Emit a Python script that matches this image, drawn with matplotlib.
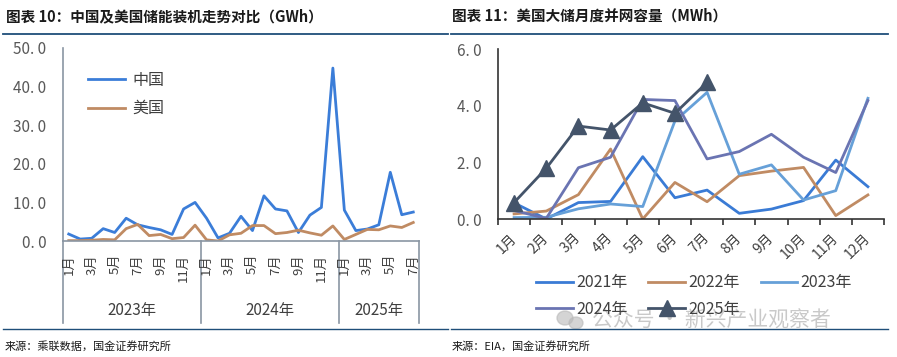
import matplotlib
matplotlib.use("Agg")
import matplotlib.pyplot as plt
from matplotlib.lines import Line2D
from matplotlib.patches import Ellipse
import matplotlib.transforms as mtransforms
import numpy as np

plt.rcParams['font.family'] = ['Noto Sans CJK SC', 'DejaVu Sans']

# ---------------- data ----------------
left_title = "图表 10：中国及美国储能装机走势对比（GWh）"
right_title = "图表 11：美国大储月度并网容量（MWh）"
left_source = "来源：乘联数据，国金证券研究所"
right_source = "来源：EIA，国金证券研究所"

years_left = ["2023年", "2024年", "2025年"]
months_per_year = [12, 12, 7]
china = [1.8, 0.5, 0.7, 3.2, 2.2, 5.9, 4.2, 3.5, 2.9, 1.7, 8.3, 10.0,
         5.9, 0.8, 2.0, 6.4, 2.7, 11.7, 8.3, 7.8, 2.2, 6.7, 8.7, 44.8,
         8.0, 2.7, 3.1, 4.2, 17.8, 6.8, 7.5]
usa = [0.1, 0.1, 0.2, 0.4, 0.3, 3.2, 4.3, 1.4, 1.7, 0.6, 0.9, 4.1,
       0.3, 0.0, 1.6, 2.0, 4.0, 4.0, 1.9, 2.2, 2.8, 2.1, 1.5, 3.9,
       0.4, 1.7, 3.0, 2.9, 3.9, 3.5, 4.8]
left_series = ["中国", "美国"]

months = ["1月", "2月", "3月", "4月", "5月", "6月", "7月", "8月", "9月", "10月", "11月", "12月"]
y2021 = [0.57, 0.0, 0.58, 0.62, 2.2, 0.75, 1.02, 0.2, 0.35, 0.65, 2.08, 1.14]
y2022 = [0.18, 0.28, 0.86, 2.47, 0.0, 1.29, 0.61, 1.53, 1.69, 1.82, 0.12, 0.85]
y2023 = [0.05, 0.06, 0.36, 0.53, 0.44, 3.46, 4.47, 1.58, 1.91, 0.67, 1.0, 4.26]
y2024 = [0.3, 0.02, 1.81, 2.18, 4.22, 4.18, 2.12, 2.38, 2.99, 2.18, 1.64, 4.18]
y2025 = [0.58, 1.79, 3.28, 3.14, 4.1, 3.73, 4.82]
right_series = ["2021年", "2022年", "2023年", "2024年", "2025年"]
watermark = "公众号 · 新兴产业观察者"

# ---------------- styles ----------------
W, H = 897, 357
fig = plt.figure(figsize=(W / 100, H / 100), dpi=100)
fig.patch.set_facecolor("white")

def fx(px):
    return px / W

def fy(py):
    return 1 - py / H

line_col = "#1f4e79"
txt_col = "#404040"
tick_col = "#595959"

# title lines and bottom lines
for (x0, x1) in [(3, 448), (451, 888)]:
    fig.add_artist(Line2D([fx(x0), fx(x1)], [fy(34), fy(34)], color=line_col, lw=1.3))
    fig.add_artist(Line2D([fx(x0), fx(x1)], [fy(329), fy(329)], color=line_col, lw=1.0))

fig.text(fx(6), fy(16), left_title, fontsize=10.5, fontweight='bold', fontstyle='italic',
         color="#1a1a1a", va='center', ha='left')
fig.text(fx(452), fy(16), right_title, fontsize=10.5, fontweight='bold', fontstyle='italic',
         color="#1a1a1a", va='center', ha='left')
fig.text(fx(5), fy(346), left_source, fontsize=8, color="#1a1a1a", va='center', ha='left')
fig.text(fx(452), fy(346), right_source, fontsize=8, color="#1a1a1a", va='center', ha='left')

def fmt(v):
    return f"{v:.1f}".replace(".", ". ")

# ---------------- left chart ----------------
axL = fig.add_axes([fx(63), fy(241), fx(419 - 63), (241 - 48) / H])
n = len(china)
x = np.arange(n)
axL.plot(x, china, color="#3b7dd8", lw=2.0, label=left_series[0])
axL.plot(x, usa, color="#c08b63", lw=2.0, label=left_series[1])
axL.set_xlim(-0.5, n - 0.5)
axL.set_ylim(0, 50)
axL.set_yticks([0, 10, 20, 30, 40, 50])
axL.set_yticklabels([fmt(v) for v in [0, 10, 20, 30, 40, 50]])
axL.tick_params(axis='y', length=0, pad=12, labelsize=11, labelcolor=tick_col)
axL.set_xticks([])
for s in ['top', 'right']:
    axL.spines[s].set_visible(False)
ax_gray = "#8a96a3"
axL.spines['left'].set_color(ax_gray)
axL.spines['bottom'].set_color(ax_gray)
axL.spines['left'].set_linewidth(1.2)
axL.spines['bottom'].set_linewidth(1.2)

trans = mtransforms.blended_transform_factory(axL.transData, axL.transAxes)
axh = 241 - 48
idx = 0
bounds = [-0.5]
for yi, cnt in enumerate(months_per_year):
    for m in range(cnt):
        if m % 2 == 0:
            axL.text(idx + m, (241 - 254) / axh, months[m], rotation=90, ha='center', va='top',
                     fontsize=9.5, color=txt_col, transform=trans)
    center = idx + (cnt - 1) / 2
    axL.text(center, (241 - 311) / axh, years_left[yi], ha='center', va='center',
             fontsize=11, color=txt_col, transform=trans)
    idx += cnt
    bounds.append(idx - 0.5)
for b in bounds:
    axL.plot([b, b], [0, (241 - 323) / axh], color=ax_gray, lw=1.2, transform=trans, clip_on=False)

legL = axL.legend(loc='upper left', bbox_to_anchor=(0.03, 0.95), frameon=False, fontsize=11.5,
                  handlelength=2.3, handletextpad=0.5, labelspacing=0.7)
for t in legL.get_texts():
    t.set_color(txt_col)

# ---------------- right chart ----------------
axR = fig.add_axes([fx(498), fy(219), fx(884 - 498), (219 - 49) / H])
xm = np.arange(len(months))
axR.plot(xm, y2021, color="#3a7bd5", lw=2.0, label=right_series[0])
axR.plot(xm, y2022, color="#c08b63", lw=2.0, label=right_series[1])
axR.plot(xm, y2023, color="#66a0d8", lw=2.0, label=right_series[2])
axR.plot(xm, y2024, color="#6a74b2", lw=2.0, label=right_series[3])
axR.plot(np.arange(len(y2025)), y2025, color="#44546a", lw=2.0, marker='^', markersize=11,
         label=right_series[4])
axR.set_xlim(-0.5, len(months) - 0.5)
axR.set_ylim(0, 6)
axR.set_yticks([0, 2, 4, 6])
axR.set_yticklabels([fmt(v) for v in [0, 2, 4, 6]])
axR.tick_params(axis='y', length=0, pad=12, labelsize=11, labelcolor=tick_col)
axR.set_xticks(xm)
axR.set_xticklabels(months, rotation=45, ha='right', va='center', rotation_mode='anchor',
                    fontsize=10, color=txt_col)
axR.tick_params(axis='x', which='major', length=0, pad=12)
axR.set_xticks(np.arange(-0.5, len(months)), minor=True)
axR.tick_params(axis='x', which='minor', length=4, width=1.2, color="#333333", direction='out')
for s in ['top', 'right']:
    axR.spines[s].set_visible(False)
axR.spines['left'].set_color("#333333")
axR.spines['bottom'].set_color("#333333")
axR.spines['left'].set_linewidth(1.2)
axR.spines['bottom'].set_linewidth(1.2)

handles, labels = axR.get_legend_handles_labels()
order = [0, 3, 1, 4, 2]
legR = fig.legend([handles[i] for i in order], [labels[i] for i in order], ncol=3,
                  loc='center left', bbox_to_anchor=(fx(522), fy(296)), frameon=False,
                  fontsize=11.5, handlelength=2.3, handletextpad=0.2, columnspacing=1.3,
                  labelspacing=0.6)
for t in legR.get_texts():
    t.set_color(txt_col)

# watermark
wm_col = "#b8b8b8"
fig.add_artist(Ellipse((fx(565), fy(318)), fx(16), 14 / H, color=wm_col, alpha=0.6))
fig.add_artist(Ellipse((fx(576), fy(323)), fx(14), 12 / H, color=wm_col, alpha=0.6))
fig.text(fx(592), fy(321), watermark, fontsize=15, color=wm_col, alpha=0.75,
         va='center', ha='left')

fig.savefig("out.png", dpi=100, facecolor="white")
